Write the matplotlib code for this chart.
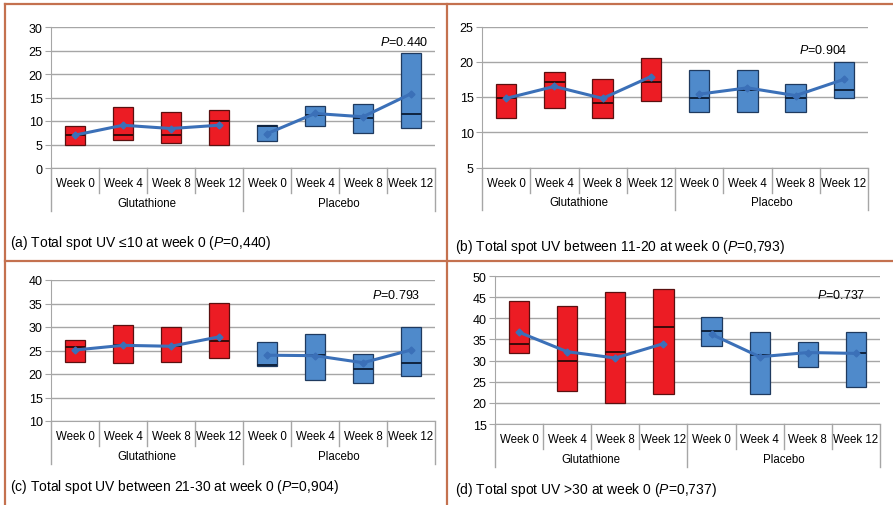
import matplotlib
matplotlib.use("Agg")
import matplotlib.pyplot as plt
from matplotlib.lines import Line2D
import numpy as np

plt.rcParams['font.family'] = ['Liberation Sans', 'DejaVu Sans']
plt.rcParams['mathtext.fontset'] = 'custom'
plt.rcParams['mathtext.it'] = 'Liberation Sans:italic'
plt.rcParams['mathtext.rm'] = 'Liberation Sans'

weeks = ["Week 0", "Week 4", "Week 8", "Week 12"]
groups = ["Glutathione", "Placebo"]

# Panel (a)
a_low = [5.0, 5.9, 5.4, 5.0, 5.7, 8.9, 7.4, 8.6]
a_high = [8.9, 13.0, 11.9, 12.4, 9.1, 13.2, 13.7, 24.5]
a_med = [7.1, 7.1, 7.1, 10.0, 8.9, 11.3, 10.6, 11.4]
a_mean = [7.0, 9.1, 8.4, 9.1, 7.3, 11.6, 10.9, 15.8]
# Panel (b)
b_low = [12.0, 13.5, 12.0, 14.5, 12.9, 12.9, 12.9, 14.9]
b_high = [16.9, 18.6, 17.5, 20.5, 18.9, 18.9, 16.9, 20.0]
b_med = [14.9, 17.1, 14.1, 17.1, 14.9, 16.0, 14.9, 16.0]
b_mean = [14.8, 16.5, 14.8, 17.9, 15.4, 16.3, 15.2, 17.5]
# Panel (c)
c_low = [22.6, 22.4, 22.6, 23.5, 21.8, 18.7, 18.0, 19.6]
c_high = [27.3, 30.4, 30.0, 35.0, 26.8, 28.5, 24.2, 29.9]
c_med = [25.8, 26.1, 25.9, 27.1, 22.0, 24.0, 21.0, 22.4]
c_mean = [25.1, 26.1, 25.9, 27.9, 24.0, 23.9, 22.4, 25.1]
# Panel (d)
d_low = [31.9, 22.9, 19.9, 22.0, 33.4, 22.1, 28.5, 23.8]
d_high = [44.1, 42.9, 46.1, 47.0, 40.3, 36.8, 34.4, 36.8]
d_med = [34.0, 29.9, 32.0, 38.0, 37.0, 31.3, 31.7, 31.9]
d_mean = [36.7, 32.1, 30.6, 34.0, 36.2, 30.9, 31.9, 31.7]

W, H = 893, 506
fig = plt.figure(figsize=(W / 100, H / 100), dpi=100)
fig.patch.set_facecolor('white')

RED = '#ec1c24'
BLUE = '#4f8acb'
LINE = '#3b70b8'
GRID = '#a6a6a6'
FRAME = '#c4714f'

panels = [
    dict(px=(51, 435, 28, 169), lo=a_low, hi=a_high, med=a_med, mean=a_mean,
         ylim=(0, 30), yt=np.arange(0, 31, 5), p="$P$=0.440", pxy=(0.92, 0.894),
         cap="(a) Total spot UV ≤10 at week 0 ($P$=0,440)", capxy=(10, 243)),
    dict(px=(482, 868, 27.5, 168.5), lo=b_low, hi=b_high, med=b_med, mean=b_mean,
         ylim=(5, 25), yt=np.arange(5, 26, 5), p="$P$=0.904", pxy=(0.884, 0.84),
         cap="(b) Total spot UV between 11-20 at week 0 ($P$=0,793)", capxy=(455, 247)),
    dict(px=(51, 435, 281, 422), lo=c_low, hi=c_high, med=c_med, mean=c_mean,
         ylim=(10, 40), yt=np.arange(10, 41, 5), p="$P$=0.793", pxy=(0.90, 0.90),
         cap="(c) Total spot UV between 21-30 at week 0 ($P$=0,904)", capxy=(10, 487)),
    dict(px=(495, 880, 277, 425), lo=d_low, hi=d_high, med=d_med, mean=d_mean,
         ylim=(15, 50), yt=np.arange(15, 51, 5), p="$P$=0.737", pxy=(0.899, 0.872),
         cap="(d) Total spot UV >30 at week 0 ($P$=0,737)", capxy=(455, 490)),
]

x = np.arange(8) + 0.5
bw = 0.42
for pn in panels:
    l, r, t, b = pn['px']
    hpx = b - t
    ax = fig.add_axes([l / W, 1 - b / H, (r - l) / W, hpx / H])
    ax.set_xlim(0, 8)
    ax.set_ylim(*pn['ylim'])
    ax.set_yticks(pn['yt'])
    ax.yaxis.grid(True, color=GRID, lw=1.0)
    ax.set_axisbelow(True)
    for s in ['top', 'right']:
        ax.spines[s].set_visible(False)
    ax.spines['left'].set_color(GRID)
    ax.spines['bottom'].set_color(GRID)
    ax.tick_params(axis='y', length=4, color=GRID, labelsize=9, pad=2)
    ax.set_xticks(x)
    ax.set_xticklabels(weeks * 2, fontsize=8.3)
    ax.tick_params(axis='x', length=0, pad=6.5)

    lo = np.array(pn['lo']); hi = np.array(pn['hi'])
    colors = [RED] * 4 + [BLUE] * 4
    edges = ['#5a1010'] * 4 + ['#1f3a5f'] * 4
    ax.bar(x, hi - lo, bottom=lo, width=bw, color=colors, edgecolor=edges, lw=0.9, zorder=2)
    ax.hlines(pn['med'], x - bw / 2, x + bw / 2, colors=['#3a0a0a'] * 4 + ['#10243f'] * 4,
              lw=1.4, zorder=3)
    for g in range(2):
        sl = slice(4 * g, 4 * g + 4)
        ax.plot(x[sl], np.array(pn['mean'])[sl], color=LINE, lw=2.2, marker='D',
                markersize=3.5, zorder=4)

    tr = ax.get_xaxis_transform()
    for k in range(9):
        ln = -43 / hpx if k in (0, 4, 8) else -25 / hpx
        ax.add_line(Line2D([k, k], [0, ln], transform=tr, color=GRID, lw=1.0, clip_on=False))
    for g in range(2):
        ax.text(2 + 4 * g, -35 / hpx, groups[g], transform=tr, ha='center', va='center',
                fontsize=8.3)
    ax.text(pn['pxy'][0], pn['pxy'][1], pn['p'], transform=ax.transAxes, ha='center',
            va='center', fontsize=9)
    fig.text(pn['capxy'][0] / W, 1 - pn['capxy'][1] / H, pn['cap'], ha='left', va='center',
             fontsize=10)

def fl(x0, y0, x1, y1):
    fig.add_artist(Line2D([x0 / W, x1 / W], [1 - y0 / H, 1 - y1 / H], color=FRAME, lw=1.6,
                          transform=fig.transFigure))

fl(5, 5, W, 5)
fl(5, 5, 5, H)
fl(447, 5, 447, H)
fl(5, 262, W, 262)

fig.savefig("out.png", dpi=100)
